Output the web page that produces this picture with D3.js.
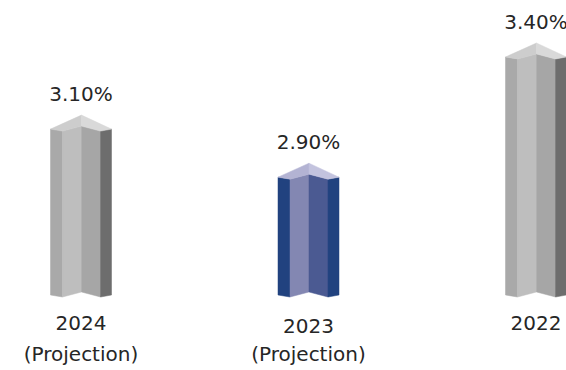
<!DOCTYPE html>
<html>
<head>
<meta charset="utf-8">
<script src="https://cdn.jsdelivr.net/npm/d3@7"></script>
<style>
  html, body { margin: 0; padding: 0; background: #ffffff; }
  svg { display: block; }
  text { font-family: "DejaVu Sans", sans-serif; fill: #262626; }
</style>
</head>
<body>
<svg id="chart" width="566" height="370"></svg>
<script>
// ---- data ----
const years = ["2024", "2023", "2022"];
const subLabels = ["(Projection)", "(Projection)", ""];
const values = [3.10, 2.90, 3.40];
const valueLabels = ["3.10%", "2.90%", "3.40%"];
const highlighted = [false, true, false];

// ---- palettes (style) ----
const grey = { left: "#a9a9a9", midL: "#bebebe", midR: "#a6a6a6", right: "#6d6d6d", topL: "#cdcdcd", topR: "#d9d9d9" };
const blue = { left: "#21427f", midL: "#8387b2", midR: "#4b5a92", right: "#21427f", topL: "#b3b3d3", topR: "#c3c3de" };

const svg = d3.select("#chart");

const x = d3.scalePoint().domain(years).range([81, 536]);
const y = d3.scaleLinear().domain([2.41, 3.4]).range([295, 57]);

const barW = 61;
// profile fractions across width and vertical offsets of the front edge
const fx = [0, 0.197, 0.508, 0.82, 1];
const fy = [0, 2, -3, 2, 0];
const apexRise = 14;

const data = years.map((yr, i) => ({ yr, sub: subLabels[i], v: values[i], lab: valueLabels[i], hi: highlighted[i] }));

const g = svg.append("g");

data.forEach(d => {
  const cx = x(d.yr);
  const x0 = cx - barW / 2;
  const yt = y(d.v);
  const yb = y.range()[0];
  const px = fx.map(f => x0 + f * barW);
  const pal = d.hi ? blue : grey;
  const faceCols = [pal.left, pal.midL, pal.midR, pal.right];
  const bar = g.append("g").attr("class", "bar");
  // front faces
  for (let k = 0; k < 4; k++) {
    const pts = [
      [px[k], yt + fy[k]],
      [px[k + 1], yt + fy[k + 1]],
      [px[k + 1], yb + fy[k + 1]],
      [px[k], yb + fy[k]]
    ];
    bar.append("path")
      .attr("d", d3.line()(pts) + "Z")
      .attr("fill", faceCols[k])
      .attr("stroke", faceCols[k])
      .attr("stroke-width", 0.5);
  }
  // top face (two halves)
  const apex = [px[2], yt - apexRise];
  const topLeft = [[px[0], yt + fy[0]], apex, [px[2], yt + fy[2]], [px[1], yt + fy[1]]];
  const topRight = [apex, [px[4], yt + fy[4]], [px[3], yt + fy[3]], [px[2], yt + fy[2]]];
  bar.append("path").attr("d", d3.line()(topLeft) + "Z").attr("fill", pal.topL).attr("stroke", pal.topL).attr("stroke-width", 0.5);
  bar.append("path").attr("d", d3.line()(topRight) + "Z").attr("fill", pal.topR).attr("stroke", pal.topR).attr("stroke-width", 0.5);

  // value label
  g.append("text")
    .attr("x", cx)
    .attr("y", yt - apexRise - 14)
    .attr("text-anchor", "middle")
    .attr("font-size", 20)
    .text(d.lab);

  // category labels
  g.append("text")
    .attr("x", cx)
    .attr("y", d.hi ? 333 : 330)
    .attr("text-anchor", "middle")
    .attr("font-size", 20)
    .text(d.yr);
  if (d.sub) {
    g.append("text")
      .attr("x", cx)
      .attr("y", 361)
      .attr("text-anchor", "middle")
      .attr("font-size", 20)
      .text(d.sub);
  }
});
</script>
</body>
</html>
